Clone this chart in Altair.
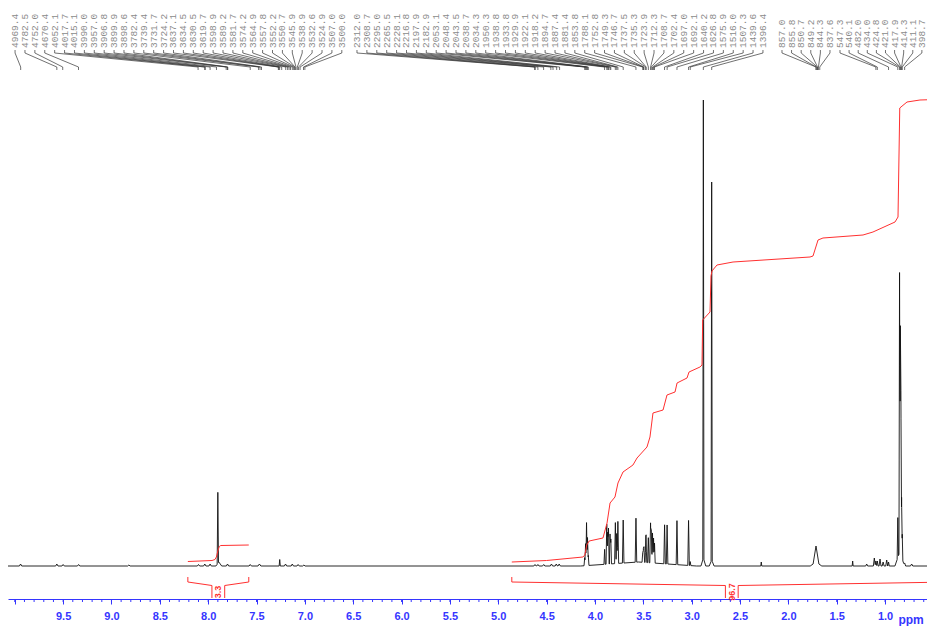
import altair as alt
import pandas as pd

# ---------------- data ----------------
SF_MHZ = 500.0  # spectrometer frequency used for the Hz peak labels

labels_g1 = [4969.4, 4782.5, 4752.0, 4670.4, 4052.1, 4017.7, 4015.1, 3990.0, 3957.0,
             3906.8, 3899.9, 3898.6, 3782.4, 3739.4, 3731.7, 3724.2, 3637.1, 3634.5,
             3630.5, 3619.7, 3598.9, 3589.2, 3581.7, 3574.2, 3564.9, 3557.8, 3552.2,
             3550.7, 3545.9, 3538.9, 3532.6, 3524.9, 3507.0, 3500.0]
labels_g2 = [2312.0, 2308.7, 2295.0, 2265.5, 2228.1, 2216.8, 2197.9, 2182.9, 2053.1,
             2048.4, 2043.5, 2038.7, 2034.3, 1950.3, 1938.8, 1933.8, 1929.9, 1922.1,
             1918.2, 1894.7, 1887.4, 1881.4, 1853.8, 1788.1, 1752.8, 1749.3, 1746.7,
             1737.5, 1735.3, 1723.9, 1712.3, 1708.7, 1702.4, 1697.0, 1692.1, 1640.2,
             1626.8, 1575.9, 1516.0, 1507.3, 1439.6, 1396.4]
labels_g3 = [857.0, 855.8, 850.7, 849.2, 844.3, 837.6]
labels_g4 = [547.3, 540.1, 482.0, 434.0, 424.8, 421.0, 417.9, 414.3, 411.1, 398.7]
label_groups = [labels_g1, labels_g2, labels_g3, labels_g4]
label_group_start_ppm = [9.997, 6.461, 2.066, 1.466]
label_slot_ppm = [0.1024, 0.1024, 0.0993, 0.0941]

# spectrum peaks: position (ppm), height (intensity units), half width at base (ppm)
peak_ppm = [9.94, 9.565, 9.50, 9.34, 8.82,
            8.10, 8.035, 7.98, 7.90, 7.89, 7.80, 7.565, 7.47, 7.26, 7.20, 7.13, 7.07, 7.01,
            4.62, 4.59, 4.53, 4.45, 4.40, 4.37,
            4.106, 4.097, 4.087, 4.077, 4.069,
            3.90, 3.878, 3.868, 3.860, 3.844, 3.836,
            3.789, 3.775, 3.763, 3.708, 3.576,
            3.506, 3.499, 3.493, 3.475, 3.471,
            3.448, 3.425, 3.417, 3.405, 3.394, 3.384,
            3.55,
            3.28, 3.254, 3.152, 3.032, 3.015,
            2.879, 2.879, 2.793, 2.793,
            2.28,
            1.714, 1.714,
            1.335, 1.19, 1.111, 1.095, 1.08, 1.052, 1.02, 0.983, 0.964,
            0.868, 0.850, 0.842, 0.836, 0.829, 0.822, 0.848, 0.797, 0.725]
peak_height = [2, 2, 1.5, 1.5, 1,
               1.5, 2, 2, 71, 4, 2, 1.5, 2, 6.5, 2, 2, 1.5, 1,
               1.5, 1.5, 1.5, 2, 2, 2,
               8, 22, 43, 28, 10,
               15, 40, 32, 36, 30, 25,
               41, 30, 42, 43, 44,
               10, 12, 14, 18, 20,
               25, 40, 33, 30, 25, 20,
               4,
               39, 39, 44, 45, 4,
               458, 8, 378, 6,
               4,
               16, 4,
               5, 2, 8, 5, 5, 7, 4, 6, 4,
               40, 280, 228, 165, 60, 25, 14, 3, 2]
peak_halfwidth = [0.012, 0.012, 0.012, 0.012, 0.012,
                  0.012, 0.012, 0.012, 0.007, 0.03, 0.012, 0.012, 0.015, 0.006, 0.012, 0.012, 0.012, 0.012,
                  0.012, 0.012, 0.012, 0.012, 0.012, 0.012,
                  0.007, 0.007, 0.007, 0.007, 0.007,
                  0.007, 0.007, 0.007, 0.007, 0.007, 0.007,
                  0.008, 0.007, 0.008, 0.008, 0.008,
                  0.007, 0.007, 0.007, 0.007, 0.007,
                  0.008, 0.008, 0.007, 0.007, 0.007, 0.007,
                  0.6,
                  0.008, 0.008, 0.008, 0.008, 0.007,
                  0.006, 0.025, 0.006, 0.025,
                  0.005,
                  0.03, 0.06,
                  0.005, 0.01, 0.01, 0.008, 0.008, 0.01, 0.01, 0.01, 0.008,
                  0.007, 0.006, 0.006, 0.006, 0.006, 0.006, 0.05, 0.01, 0.012]

# integral curves (ppm, running integral in intensity units)
int1_ppm = [8.21, 7.96, 7.93, 7.915, 7.90, 7.885, 7.87, 7.58]
int1_val = [4.5, 5.5, 6.5, 9, 15, 19.5, 20.5, 21]
int2_ppm = [4.86, 4.50, 4.124, 4.105, 4.085, 4.06, 3.917, 3.875, 3.844, 3.793, 3.762, 3.71,
            3.607, 3.565, 3.462, 3.431, 3.40, 3.296, 3.255, 3.172, 3.151, 3.048, 3.027,
            2.914, 2.893, 2.886, 2.81, 2.80, 2.79, 2.738, 2.572, 1.776, 1.745, 1.693,
            1.642, 1.228, 1.125, 0.897, 0.866, 0.848, 0.773, 0.639, 0.31]
int2_val = [4, 5.5, 9, 11, 21, 25, 28, 43, 63, 69, 83, 94,
            101, 108, 119, 129, 153, 156, 171, 174, 183, 188, 194,
            199, 201, 246, 254, 290, 295, 301, 304, 309, 310, 326,
            328, 331, 334, 344, 349, 458, 464, 466, 467]
int_ranges = [[8.21, 7.58], [4.86, 0.31]]
int_values = ["3.3", "96.7"]

major_ticks = [round(10.0 - 0.5 * i, 1) for i in range(19)]
minor_ticks = [round(10.0 - 0.1 * i, 1) for i in range(95)]

# ---------------- layout / style ----------------
W, H = 919, 591
X_DOMAIN = [10.07, 0.5662]
Y_DOMAIN = [-33, 558]
BLUE = "#3535ff"
RED = "#ff3030"
LABEL_Y, LEAD_Y = 518, [516, 513, 499, 496]
BR_TICK, BR_START, BR_MID, BR_BOT, BR_TXT = -11, -16, -19.5, -32, -26
BR_GAP = 0.066

xs = alt.Scale(domain=X_DOMAIN, nice=False, zero=False)
ys = alt.Scale(domain=Y_DOMAIN, nice=False, zero=False)

# spectrum polyline (sum of peak shapes evaluated at their vertices)
peaks = list(zip(peak_ppm, peak_height, peak_halfwidth))
xs_pts = set(X_DOMAIN)
for p, h, w in peaks:
    xs_pts.update([p - w, p, p + w])
xs_pts = sorted(xs_pts, reverse=True)


def inten(x):
    return sum(max(0.0, h * (1 - abs(x - p) / w)) for p, h, w in peaks)


spec_df = pd.DataFrame({"ppm": xs_pts, "v": [inten(x) for x in xs_pts],
                        "k": range(len(xs_pts))})

int_df = pd.DataFrame(
    [{"id": 0, "k": i, "ppm": p, "v": v} for i, (p, v) in enumerate(zip(int1_ppm, int1_val))]
    + [{"id": 1, "k": i, "ppm": p, "v": v} for i, (p, v) in enumerate(zip(int2_ppm, int2_val))])

br_rows, br_txt = [], []
for j, ((a, b), val) in enumerate(zip(int_ranges, int_values)):
    c = (a + b) / 2
    left = [(a, BR_TICK), (a, BR_START), (c + BR_GAP, BR_MID), (c + BR_GAP, BR_BOT)]
    right = [(c - BR_GAP, BR_BOT), (c - BR_GAP, BR_MID), (b, BR_START), (b, BR_TICK)]
    for side, pts in (("L", left), ("R", right)):
        for k, (p, v) in enumerate(pts):
            br_rows.append({"id": f"{j}{side}", "k": k, "ppm": p, "v": v})
    br_txt.append({"ppm": c, "v": BR_TXT, "t": val})
br_df = pd.DataFrame(br_rows)
brt_df = pd.DataFrame(br_txt)

lab_rows, lead_rows = [], []
lid = 0
for g, start, step in zip(label_groups, label_group_start_ppm, label_slot_ppm):
    for i, hz in enumerate(g):
        slot = start - i * step
        peak = hz / SF_MHZ
        lab_rows.append({"ppm": slot, "v": LABEL_Y, "t": f"{hz:.1f}"})
        for k, (p, y) in enumerate(zip([slot, slot, peak, peak], LEAD_Y)):
            lead_rows.append({"lid": lid, "k": k, "ppm": p, "v": y})
        lid += 1
lab_df = pd.DataFrame(lab_rows)
lead_df = pd.DataFrame(lead_rows)

xaxis = alt.Axis(values=major_ticks,
                 labelExpr="datum.value > 9.9 ? '' : format(datum.value, '.1f')",
                 tickSize=5, tickWidth=1, domainWidth=1, domainColor=BLUE, tickColor=BLUE,
                 labelColor=BLUE, labelFont="Liberation Sans", labelFontSize=11,
                 labelFontWeight="bold", labelPadding=6, title=None, grid=False,
                 labelOverlap=False, labelFlush=False)

X = alt.X("ppm:Q", scale=xs, axis=xaxis)
Y = alt.Y("v:Q", scale=ys, axis=None)

spec = alt.Chart(spec_df).mark_line(color="#111111", strokeWidth=0.9, clip=True).encode(
    x=X, y=Y, order="k:Q")
integ = alt.Chart(int_df).mark_line(color=RED, strokeWidth=1, clip=True).encode(
    x=X, y=Y, detail="id:N", order="k:Q")
brack = alt.Chart(br_df).mark_line(color=RED, strokeWidth=1, clip=True).encode(
    x=X, y=Y, detail="id:N", order="k:Q")
brtext = alt.Chart(brt_df).mark_text(angle=270, color=RED, fontSize=9, fontWeight="bold",
                                     font="Liberation Sans", align="center",
                                     baseline="middle").encode(x=X, y=Y, text="t:N")
leads = alt.Chart(lead_df).mark_line(color="#333333", strokeWidth=0.7, clip=True).encode(
    x=X, y=Y, detail="lid:N", order="k:Q")
labs = alt.Chart(lab_df).mark_text(angle=270, align="left", baseline="middle",
                                   font="Liberation Mono", fontSize=9.5, clip=True,
                                   color="#8a8a8a").encode(x=X, y=Y, text="t:N")
minor = alt.Chart(pd.DataFrame({"ppm": minor_ticks})).mark_rule(
    color=BLUE, strokeWidth=1).encode(x=X, y=alt.value(H), y2=alt.value(H + 3))
ppm_lbl = alt.Chart(pd.DataFrame({"ppm": [0.6], "v": [-54], "t": ["ppm"]})).mark_text(
    align="right", baseline="middle", font="Liberation Sans", fontSize=12,
    fontWeight="bold", color=BLUE, clip=False).encode(x=X, y=Y, text="t:N")

chart = alt.layer(spec, integ, brack, brtext, leads, labs, minor, ppm_lbl).properties(
    width=W, height=H, padding=0, background="white"
).configure_view(stroke=None)

chart.save("out.html", embed_options={"renderer": "svg", "actions": False})
